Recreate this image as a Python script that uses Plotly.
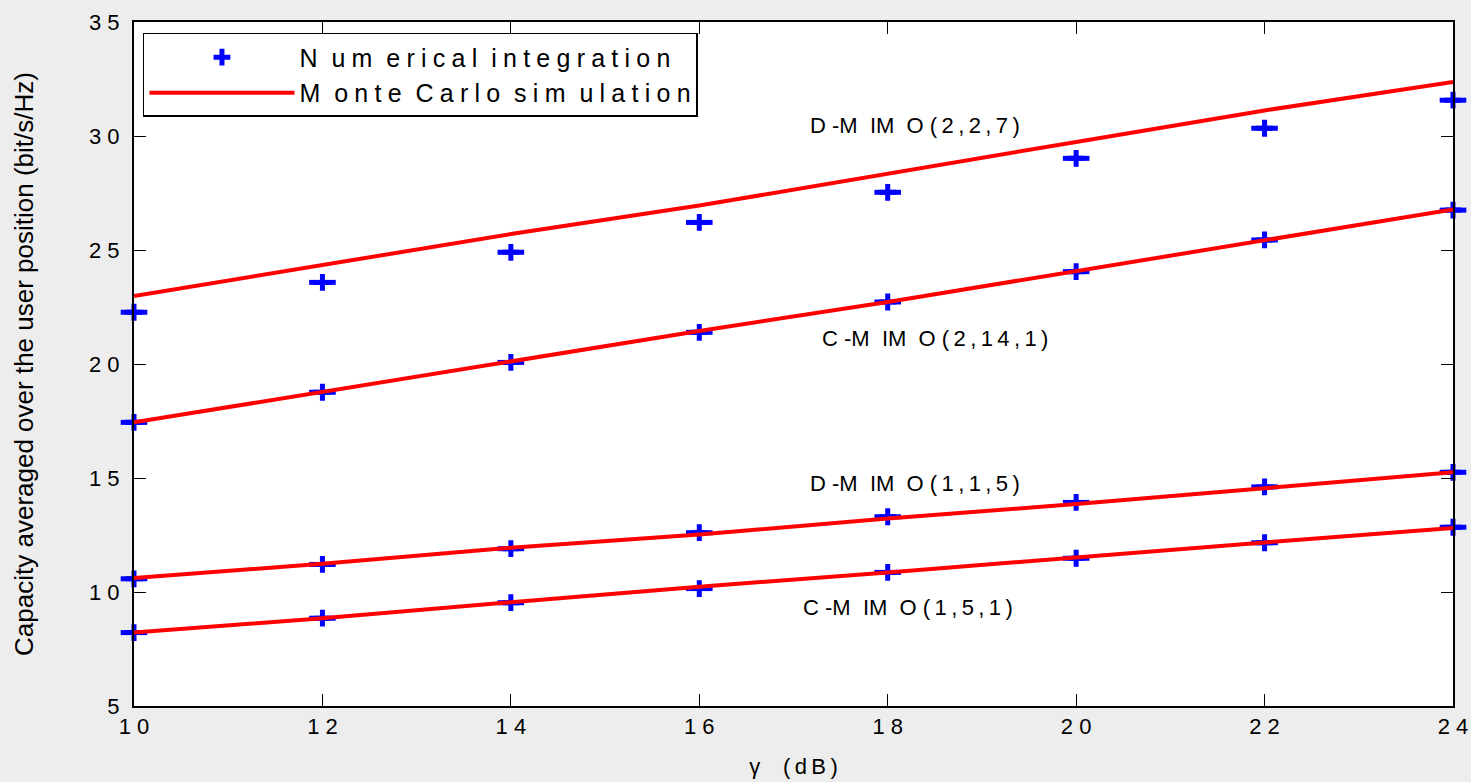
import plotly.graph_objects as go

TS = "\u2009"   # thin space: mimics the wide letter spacing of the original
LS = "\u2005"   # four-per-em space for the legend text

def spaced(s, sep=TS):
    return sep.join(list(s)).replace(sep + " " + sep, "  ")

# ---------------- data ----------------
gamma_db = [10, 12, 14, 16, 18, 20, 22, 24]

num_dmimo_227 = [22.27, 23.58, 24.90, 26.21, 27.53, 29.02, 30.34, 31.57]
mc_dmimo_227 = [22.98, 24.33, 25.70, 26.95, 28.36, 29.74, 31.12, 32.37]

num_cmimo_2141 = [17.44, 18.76, 20.07, 21.39, 22.72, 24.05, 25.44, 26.75]
mc_cmimo_2141 = [17.44, 18.78, 20.12, 21.45, 22.72, 24.08, 25.42, 26.78]

num_dmimo_115 = [10.58, 11.21, 11.90, 12.60, 13.30, 13.93, 14.61, 15.25]
mc_dmimo_115 = [10.61, 11.24, 11.94, 12.52, 13.22, 13.86, 14.55, 15.25]

num_cmimo_151 = [8.22, 8.85, 9.53, 10.15, 10.86, 11.48, 12.16, 12.84]
mc_cmimo_151 = [8.22, 8.85, 9.55, 10.23, 10.86, 11.53, 12.17, 12.81]

x_ticks = [10, 12, 14, 16, 18, 20, 22, 24]
y_ticks = [5, 10, 15, 20, 25, 30, 35]

curve_prefix = ["D -M  IM  O ", "C -M  IM  O ", "D -M  IM  O ", "C -M  IM  O "]
curve_params = ["(2,2,7)", "(2,14,1)", "(1,1,5)", "(1,5,1)"]
label_x = [18.29, 18.5, 18.29, 18.22]
label_y = [30.48, 21.14, 14.74, 9.34]

legend_names = ["N um erical integration", "M onte Carlo sim ulation"]
x_title = "\u03b3  (dB)"
y_title = "Capacity averaged over the user position (bit/s/Hz)"

font_family = "Liberation Sans, Arial, sans-serif"

# ---------------- figure ----------------
fig = go.Figure()

num_sets = [num_dmimo_227, num_cmimo_2141, num_dmimo_115, num_cmimo_151]
mc_sets = [mc_dmimo_227, mc_cmimo_2141, mc_dmimo_115, mc_cmimo_151]

# numerical-integration markers: '+' that is wider than tall
for i, ys in enumerate(num_sets):
    fig.add_trace(go.Scatter(
        x=gamma_db, y=ys, mode="markers",
        marker=dict(symbol="cross-thin", size=12, color="#0000ff",
                    line=dict(color="#0000ff", width=5)),
        name=spaced(legend_names[0], LS),
        showlegend=(i == 0), legendrank=1, cliponaxis=False,
    ))
    fig.add_trace(go.Scatter(
        x=gamma_db, y=ys, mode="markers",
        marker=dict(symbol="line-ew", size=19, color="#0000ff",
                    line=dict(color="#0000ff", width=5)),
        showlegend=False, hoverinfo="skip", cliponaxis=False,
    ))

# Monte Carlo lines (drawn on top of the markers)
for i, ys in enumerate(mc_sets):
    fig.add_trace(go.Scatter(
        x=gamma_db, y=ys, mode="lines",
        line=dict(color="#ff0000", width=4),
        name=spaced(legend_names[1], LS),
        showlegend=(i == 0), legendrank=2, cliponaxis=False,
    ))

for pre, par, lx, ly in zip(curve_prefix, curve_params, label_x, label_y):
    fig.add_annotation(x=lx, y=ly, text=pre + spaced(par), showarrow=False,
                       font=dict(size=22, color="black", family=font_family))

fig.update_layout(
    width=1471, height=782,
    margin=dict(l=134, r=18, t=22, b=76, autoexpand=False),
    paper_bgcolor="#ededed",
    plot_bgcolor="white",
    font=dict(family=font_family, color="black", size=22),
    legend=dict(
        x=0.0068, y=0.984, xanchor="left", yanchor="top",
        bgcolor="white", bordercolor="black", borderwidth=1.5,
        font=dict(size=25, family=font_family, color="black"),
        itemwidth=145, tracegroupgap=0,
        traceorder="normal",
    ),
    xaxis=dict(
        range=[10, 24], tickmode="array", tickvals=x_ticks,
        ticktext=[spaced(str(v), " ") for v in x_ticks],
        ticks="inside", ticklen=12, tickcolor="black", tickwidth=1,
        showline=True, linecolor="black", linewidth=2, mirror="allticks",
        showgrid=False, zeroline=False,
        tickfont=dict(size=22),
        title=dict(text=spaced(x_title), font=dict(size=22), standoff=20),
    ),
    yaxis=dict(
        range=[5, 35], tickmode="array", tickvals=y_ticks,
        ticktext=[spaced(str(v), " ") for v in y_ticks],
        ticks="inside", ticklen=12, tickcolor="black", tickwidth=1,
        showline=True, linecolor="black", linewidth=2, mirror="allticks",
        showgrid=False, zeroline=False,
        tickfont=dict(size=22), ticklabelstandoff=8,
        title=dict(text=y_title, font=dict(size=26), standoff=48),
    ),
)

fig.write_html("out.html")
